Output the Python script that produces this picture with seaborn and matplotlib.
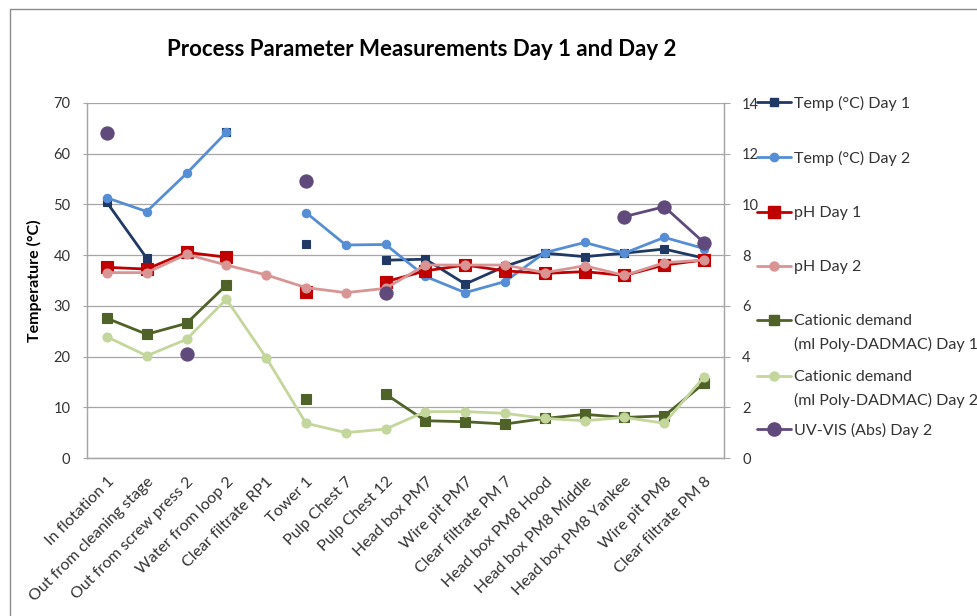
import numpy as np
import pandas as pd
import matplotlib
matplotlib.use("Agg")
import matplotlib.pyplot as plt
from matplotlib.lines import Line2D
import seaborn as sns

nan = np.nan

categories = [
    "In flotation 1", "Out from cleaning stage", "Out from screw press 2",
    "Water from loop 2", "Clear filtrate RP1", "Tower 1", "Pulp Chest 7",
    "Pulp Chest 12", "Head box PM7", "Wire pit PM7", "Clear filtrate PM 7",
    "Head box PM8 Hood", "Head box PM8 Middle", "Head box PM8 Yankee",
    "Wire pit PM8", "Clear filtrate PM 8",
]

# Temperature (°C), left axis
temp_day1 = [50.4, 39.4, nan, 64.2, nan, 42.1, nan, 39.0, 39.2, 34.3, 37.8, 40.4, 39.7, 40.4, 41.2, 39.4]
temp_day2 = [51.3, 48.6, 56.1, 64.2, nan, 48.4, 42.0, 42.1, 35.8, 32.6, 34.8, 40.5, 42.5, 40.4, 43.5, 41.3]

# Right axis series
ph_day1 = [7.52, 7.45, 8.11, 7.92, nan, 6.56, nan, 6.95, 7.38, 7.61, 7.38, 7.28, 7.35, 7.20, 7.61, 7.81]
ph_day2 = [7.31, 7.31, 8.03, 7.61, 7.22, 6.72, 6.52, 6.69, 7.61, 7.61, 7.61, 7.31, 7.58, 7.20, 7.70, 7.81]
cationic_day1 = [5.51, 4.88, 5.31, 6.82, nan, 2.32, nan, 2.52, 1.47, 1.43, 1.34, 1.56, 1.72, 1.60, 1.66, 2.95]
cationic_day2 = [4.78, 4.03, 4.68, 6.26, 3.96, 1.37, 1.00, 1.14, 1.83, 1.83, 1.76, 1.56, 1.47, 1.60, 1.37, 3.20]
uvvis_day2 = [12.83, nan, 4.09, nan, nan, 10.94, nan, 6.52, nan, nan, nan, nan, nan, 9.52, 9.91, 8.49]

left_ticks = list(range(0, 71, 10))
right_ticks = list(range(0, 15, 2))

sns.set_theme(style="white")
plt.rcParams["font.family"] = ["Lato", "DejaVu Sans"]

fig = plt.figure(figsize=(9.78, 6.16), dpi=100)
ax = fig.add_axes([87 / 978, 1 - 458 / 616, (724 - 87) / 978, (458 - 103) / 616])
ax2 = ax.twinx()
ax2.patch.set_alpha(0)

grid_col = "#a6a6a6"
text_col = "#333333"


def draw_series(axis, values, color, marker, ms):
    """Draw one series as line runs broken wherever a value is missing."""
    df = pd.DataFrame({"pos": np.arange(len(values)), "val": values})
    df["run"] = df["val"].isna().cumsum()
    df = df.dropna()
    sns.lineplot(data=df, x="pos", y="val", units="run", estimator=None,
                 color=color, marker=marker, markersize=ms,
                 markeredgecolor=color, markeredgewidth=0.8, linewidth=2.0,
                 ax=axis, legend=False, sort=False)


series = [
    (ax, temp_day1, "#1f3864", "s", 6.0, "Temp (°C) Day 1"),
    (ax, temp_day2, "#558ed5", "o", 6.0, "Temp (°C) Day 2"),
    (ax2, ph_day1, "#c00000", "s", 8.5, "pH Day 1"),
    (ax2, ph_day2, "#d99594", "o", 6.5, "pH Day 2"),
    (ax2, cationic_day1, "#4f6228", "s", 6.5, "Cationic demand\n(ml Poly-DADMAC) Day 1"),
    (ax2, cationic_day2, "#c3d69b", "o", 6.5, "Cationic demand\n(ml Poly-DADMAC) Day 2"),
    (ax2, uvvis_day2, "#604a7b", "o", 9.5, "UV-VIS (Abs) Day 2"),
]

for axis, vals, col, mk, ms, _ in series:
    draw_series(axis, vals, col, mk, ms)

# Axes styling
ax.set_xlim(-0.5, len(categories) - 0.5)
ax.set_ylim(0, 70)
ax2.set_ylim(0, 14)
ax.set_yticks(left_ticks)
ax2.set_yticks(right_ticks)
ax.set_xticks(np.arange(len(categories)))
ax.set_xticklabels(categories, rotation=45, ha="right", rotation_mode="anchor",
                   fontsize=11.5, color=text_col)
ax.tick_params(axis="x", length=0, pad=12)
ax.tick_params(axis="y", length=3, width=0.8, color=grid_col, direction="out",
               pad=9, labelsize=10.5, labelcolor=text_col)
ax2.tick_params(axis="y", length=4, width=0.8, color=grid_col, pad=9,
                labelsize=10.5, labelcolor=text_col, direction="out")
ax.set_xlabel("")
ax2.set_xlabel("")
ax2.set_ylabel("")
ax.set_ylabel("Temperature (°C)", fontsize=11.5, fontweight="bold", color="black")
ax.yaxis.set_label_coords(-0.071, 0.5)

ax.grid(axis="y", color=grid_col, linewidth=0.9)
ax.grid(axis="x", visible=False)
ax2.grid(False)
for a in (ax, ax2):
    for name, sp in a.spines.items():
        sp.set_color(grid_col)
        sp.set_linewidth(0.9)
    a.spines["top"].set_visible(False)

fig.text(422 / 978, 1 - 50 / 616, "Process Parameter Measurements Day 1 and Day 2",
         ha="center", va="center", fontsize=16, fontweight="bold", color="black")

# Legend entries placed one by one down the right margin
entry_y = [103, 158, 213, 267, 321, 377, 430]
leg_x = 757 / 978
leg_kw = dict(loc="center left", frameon=False, fontsize=11.5, handlelength=2.1,
              handletextpad=0.2, borderpad=0, borderaxespad=0, labelcolor=text_col)
for (axis, vals, col, mk, ms, label), yy in zip(series, entry_y):
    lines = label.split("\n")
    h = Line2D([], [], color=col, marker=mk, markersize=ms, markeredgecolor=col,
               linewidth=2.0)
    fig.legend(handles=[h], labels=[lines[0]],
               bbox_to_anchor=(leg_x, 1 - yy / 616), **leg_kw)
    if len(lines) > 1:
        blank = Line2D([], [], color="none")
        fig.legend(handles=[blank], labels=[lines[1]],
                   bbox_to_anchor=(leg_x, 1 - (yy + 23) / 616), **leg_kw)

# Chart area border (top and left edges)
fig.add_artist(Line2D([10 / 978, 1.0], [1 - 9 / 616, 1 - 9 / 616],
                      transform=fig.transFigure, color="#8c8c8c", linewidth=1.0))
fig.add_artist(Line2D([10 / 978, 10 / 978], [0.0, 1 - 9 / 616],
                      transform=fig.transFigure, color="#8c8c8c", linewidth=1.0))

fig.savefig("out.png", dpi=100, facecolor="white")
